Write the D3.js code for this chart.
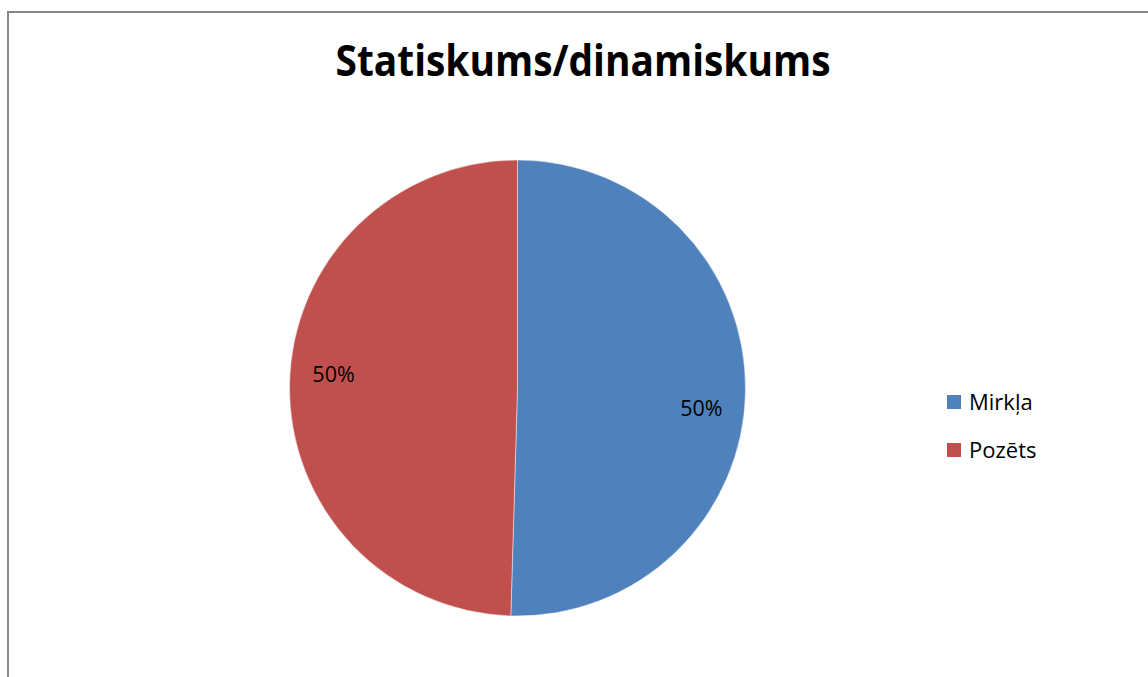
<!DOCTYPE html>
<html>
<head>
<meta charset="utf-8">
<script src="https://cdn.jsdelivr.net/npm/d3@7"></script>
<style>
    body { margin: 0; background: #fff; }
    svg text { font-family: "Open Sans", Lato, sans-serif; }
</style>
</head>
<body>
<div id="chart"></div>
<script>

// chart data
var title = "Statiskums/dinamiskums"
var categories = ["Mirkļa", "Pozēts"]
var values = [54, 53]
var colours = ["#4F81BD", "#C0504D"]

var width = 1148
var height = 677

var svg = d3.select("#chart").append("svg")
    .attr("width", width)
    .attr("height", height)

// chart frame
svg.append("rect")
    .attr("x", 8)
    .attr("y", 12)
    .attr("width", width + 10)
    .attr("height", height + 10)
    .style("fill", "#fff")
    .style("stroke", "#878787")
    .style("stroke-width", 2)

// title, squeezed to the width it has in the original
svg.append("text")
    .attr("x", 583)
    .attr("y", 76)
    .attr("text-anchor", "middle")
    .attr("textLength", 495)
    .attr("lengthAdjust", "spacingAndGlyphs")
    .style("font-size", "43px")
    .style("font-weight", "bold")
    .style("fill", "#000")
    .text(title)

var cx = 517.5
var cy = 388
var radius = 228

var pie = d3.pie().sort(null).value(function(d) { return d })

var arc = d3.arc().innerRadius(0).outerRadius(radius)

var labelArc = d3.arc().innerRadius(184).outerRadius(184)

var g = svg.append("g")
    .attr("transform", "translate(" + cx + "," + cy + ")")

var slices = pie(values)

g.selectAll("path")
    .data(slices)
    .enter()
    .append("path")
    .attr("d", arc)
    .style("fill", function(d, i) { return colours[i] })
    .style("stroke", "rgba(255,255,255,0.45)")
    .style("stroke-width", 1)

// Excel nudges the labels a little up/down from the centroid
var labelShift = [18, -11]

g.selectAll(".label")
    .data(slices)
    .enter()
    .append("text")
    .attr("class", "label")
    .attr("x", function(d) { return labelArc.centroid(d)[0] })
    .attr("y", function(d, i) { return labelArc.centroid(d)[1] + labelShift[i] })
    .attr("dy", "0.35em")
    .attr("text-anchor", "middle")
    .style("font-size", "21.5px")
    .style("fill", "#000")
    .text(function(d) {
        return d3.format(".0%")(d.value / d3.sum(values))
    })

// legend
var legendY = d3.scalePoint()
    .domain(categories)
    .range([402, 450])

var legend = svg.append("g")

legend.selectAll("rect")
    .data(categories)
    .enter()
    .append("rect")
    .attr("x", 947)
    .attr("y", function(d) { return legendY(d) - 7 })
    .attr("width", 14)
    .attr("height", 14)
    .style("fill", function(d, i) { return colours[i] })

legend.selectAll("text")
    .data(categories)
    .enter()
    .append("text")
    .attr("x", 969)
    .attr("y", function(d) { return legendY(d) })
    .attr("dy", "0.35em")
    .style("font-size", "22px")
    .style("fill", "#000")
    .text(function(d) { return d })

</script>
</body>
</html>
